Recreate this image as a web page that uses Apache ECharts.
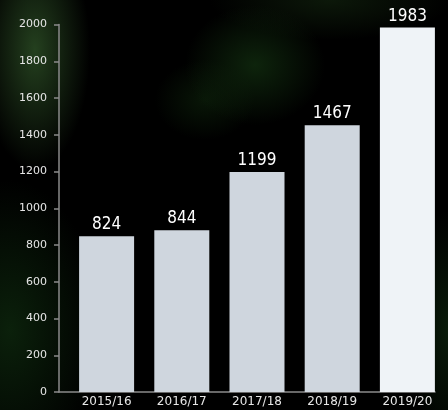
<!DOCTYPE html>
<html>
<head>
<meta charset="utf-8">
<script src="https://cdn.jsdelivr.net/npm/echarts@6/dist/echarts.min.js"></script>
<style>
  html, body { margin: 0; padding: 0; background: #000; }
  #chart {
    width: 448px; height: 410px;
    background:
      radial-gradient(ellipse 55px 120px at 35px 50px, rgba(45,80,38,0.8), rgba(0,0,0,0) 100%),
      radial-gradient(ellipse 70px 60px at 255px 65px, rgba(16,42,14,0.85), rgba(0,0,0,0) 100%),
      radial-gradient(ellipse 50px 40px at 205px 100px, rgba(12,32,10,0.7), rgba(0,0,0,0) 100%),
      radial-gradient(ellipse 90px 150px at 10px 330px, rgba(12,36,12,0.9), rgba(0,0,0,0) 100%),
      radial-gradient(ellipse 40px 120px at 448px 330px, rgba(12,34,12,0.8), rgba(0,0,0,0) 100%),
      radial-gradient(ellipse 120px 40px at 330px 0px, rgba(20,40,16,0.6), rgba(0,0,0,0) 100%),
      #000;
  }
</style>
</head>
<body>
<div id="chart"></div>
<script>
// Data
const categories = ['2015/16', '2016/17', '2017/18', '2018/19', '2019/20'];
const barValues = [848, 880, 1197, 1452, 1983];      // bar heights as drawn
const barLabels = ['824', '844', '1199', '1467', '1983']; // printed values
const barColors = ['#cfd6de', '#cfd6de', '#cfd6de', '#cfd6de', '#eff3f7'];
const yTicks = { min: 0, max: 2000, interval: 200 };

const chart = echarts.init(document.getElementById('chart'), null, { renderer: 'canvas' });
chart.setOption({
  backgroundColor: 'transparent',
  animation: false,
  grid: { left: 59, right: 13, top: 24.5, bottom: 18, containLabel: false, outerBoundsMode: 'none' },
  xAxis: {
    type: 'category',
    data: categories,
    axisLine: { show: true, lineStyle: { color: '#8a8a8a', width: 1.5 } },
    axisTick: { show: false },
    axisLabel: {
      color: '#e6e6e6', fontSize: 12, fontFamily: 'DejaVu Sans', margin: 4,
      padding: [0, 0, 0, 20]
    }
  },
  yAxis: {
    type: 'value',
    min: yTicks.min, max: yTicks.max, interval: yTicks.interval,
    axisLine: { show: true, lineStyle: { color: '#8a8a8a', width: 1.5 } },
    axisTick: { show: true, length: 5, lineStyle: { color: '#8a8a8a', width: 1.5 } },
    splitLine: { show: false },
    axisLabel: {
      color: '#e6e6e6', fontSize: 11, fontFamily: 'DejaVu Sans', margin: 12,
      formatter: v => String(v)
    }
  },
  series: [
    { type: 'bar', name: 'spacer', data: [], barWidth: 20, barGap: 0, silent: true },
    {
      type: 'bar',
      name: 'value',
      barWidth: 55,
      barGap: 0,
      data: barValues.map((v, i) => ({ value: v, itemStyle: { color: barColors[i] } })),
      label: {
        show: true, position: 'top', distance: 3,
        color: '#ffffff', fontSize: 17, fontFamily: 'DejaVu Sans Condensed, DejaVu Sans',
        formatter: p => barLabels[p.dataIndex]
      }
    }
  ]
});
</script>
</body>
</html>
